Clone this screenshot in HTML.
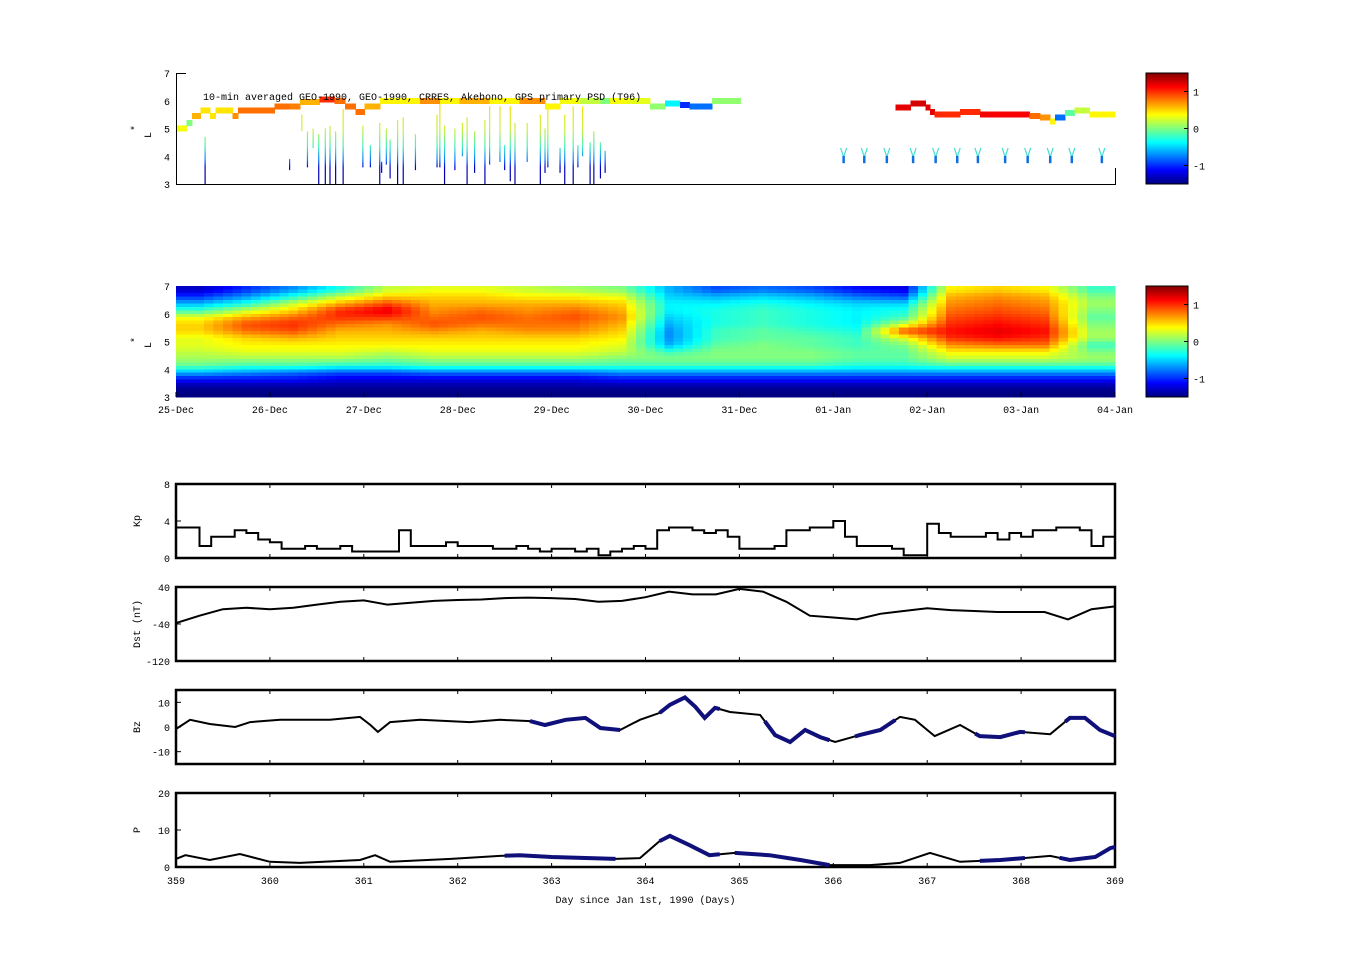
<!DOCTYPE html>
<html><head><meta charset="utf-8"><style>
html,body{margin:0;padding:0;background:#fff;}
svg{display:block;font-family:"Liberation Mono",monospace;font-size:10px;}
</style></head><body>
<svg id="fig" width="1351" height="974" xmlns="http://www.w3.org/2000/svg">
<defs>
<linearGradient id="jetv" x1="0" y1="0" x2="0" y2="1">
<stop offset="0" stop-color="#800000"/><stop offset="0.125" stop-color="#ff0000"/><stop offset="0.375" stop-color="#ffff00"/><stop offset="0.625" stop-color="#00ffff"/><stop offset="0.875" stop-color="#0000ff"/><stop offset="1" stop-color="#000080"/>
</linearGradient>
<linearGradient id="spikeGrad" gradientUnits="userSpaceOnUse" x1="0" y1="101" x2="0" y2="184">
<stop offset="0" stop-color="#ffe000"/><stop offset="0.35" stop-color="#c8f040"/><stop offset="0.55" stop-color="#40f0c0"/><stop offset="0.7" stop-color="#1080ff"/><stop offset="0.8" stop-color="#0000d0"/><stop offset="1" stop-color="#000090"/>
</linearGradient>
</defs>
<g id="p1"></g>
<g id="p2"></g>
<g id="pk"></g>
<g id="pd"></g>
<g id="pb"></g>
<g id="pp"></g>
<g id="cb"></g>
</svg>
<script>
// ---------- data ----------
const xTickDays=[359,360,361,362,363,364,365,366,367,368,369];
const dateLabels=["25-Dec","26-Dec","27-Dec","28-Dec","29-Dec","30-Dec","31-Dec","01-Jan","02-Jan","03-Jan","04-Jan"];
const lTicks=[3,4,5,6,7];
const cbTicks=[1,0,-1];
const trackStart=[0,.11,.17,.26,.36,.42,.60,.66,1.05,1.21,1.32,1.53,1.69,1.80,1.91,2.01,2.17,2.60,2.81,3.02,3.34,3.66,3.93,4.09,4.30,4.52,4.62,4.83,5.05,5.21,5.37,5.47,5.71, 7.66,7.82,7.98,8.03,8.08,8.35,8.56,9.09,9.20,9.31,9.36,9.47,9.57,9.73];
const trackEnd=[.11,.17,.26,.36,.42,.60,.66,1.05,1.21,1.32,1.53,1.69,1.80,1.91,2.01,2.17,2.60,2.81,3.02,3.34,3.66,3.93,4.09,4.30,4.52,4.62,4.83,5.05,5.21,5.37,5.47,5.71,6.01, 7.82,7.98,8.03,8.08,8.35,8.56,9.09,9.20,9.31,9.36,9.47,9.57,9.73,10.0];
const trackL=[5.0,5.2,5.45,5.65,5.45,5.65,5.45,5.65,5.8,5.8,5.95,6.05,6.0,5.8,5.6,5.8,6.0,6.0,6.0,6.0,6.0,6.0,5.8,6.0,6.0,6.0,6.0,6.0,5.8,5.9,5.85,5.8,6.0, 5.75,5.9,5.75,5.6,5.5,5.6,5.5,5.45,5.4,5.25,5.4,5.55,5.65,5.5];
const trackVal=[0.35,0,0.6,0.45,0.45,0.45,0.7,0.8,0.8,0.75,0.6,1.0,0.8,0.8,0.8,0.6,0.4,0.7,0.4,0.6,0.4,0.7,0.4,0.35,0.2,0,0.35,0.3,0.05,-0.4,-1.0,-0.8,0.05, 1.2,1.25,1.2,1.2,1.0,1.0,1.15,0.8,0.7,0.4,-0.8,-0.1,0.2,0.4];
const spikeDays=[.31,1.21,1.34,1.40,1.46,1.52,1.59,1.64,1.70,1.78,1.99,2.07,2.17,2.19,2.24,2.28,2.36,2.42,2.55,2.78,2.81,2.86,2.97,3.05,3.10,3.18,3.29,3.34,3.45,3.50,3.56,3.61,3.74,3.88,3.93,3.96,4.09,4.14,4.23,4.28,4.33,4.41,4.45,4.52,4.57];
const spikeTop=[4.7,3.9,5.5,4.9,5.0,4.8,5.0,5.1,4.9,5.7,5.1,4.4,5.2,3.8,5.0,4.6,5.3,5.4,4.8,5.5,5.9,5.1,5.0,5.2,5.4,4.9,5.3,5.8,5.8,4.4,5.8,5.2,5.2,5.5,5.0,5.7,4.3,5.5,5.8,4.4,5.8,4.5,4.9,4.5,4.2];
const spikeBot=[3,3.5,4.9,3.6,4.3,3,3,3,3,3,3.6,3.6,3,3.4,3.7,3.2,3,3,3.5,3.6,3.6,3,3.5,4.0,3,3.4,3,3.7,3.8,3.5,3.1,3,3.8,3,3.4,3.6,3.4,3,3,3.6,4.0,3,3,3.2,3.4];
const vDays=[7.11,7.33,7.57,7.85,8.09,8.32,8.54,8.83,9.07,9.31,9.54,9.86];
const heat=[
[-1.3,-1,-0.6,-0.2,0.3,0.5,0.5,0.3,0.3,0.2,0.1,-0.1,-0.6,-1.1,-1.4,-1.5],
[-1,-0.7,-0.3,0.2,0.6,0.9,0.8,0.5,0.4,0.3,0.1,-0.2,-0.7,-1.1,-1.4,-1.5],
[-0.7,-0.3,0.2,0.5,0.8,1.0,0.9,0.6,0.4,0.3,0.1,-0.2,-0.8,-1.1,-1.4,-1.5],
[-0.3,0.2,0.6,1.0,1.0,0.8,0.6,0.5,0.4,0.3,0.1,-0.3,-0.9,-1.2,-1.4,-1.5],
[0.2,0.5,0.9,1.2,1.0,0.7,0.6,0.5,0.4,0.2,0.0,-0.3,-0.9,-1.2,-1.4,-1.5],
[0.3,0.5,0.6,0.7,0.8,0.9,0.7,0.5,0.4,0.3,0.1,-0.2,-0.8,-1.2,-1.4,-1.5],
[0.3,0.5,0.6,0.8,0.9,0.8,0.6,0.5,0.4,0.3,0.1,-0.2,-0.8,-1.2,-1.4,-1.5],
[0.2,0.4,0.6,0.7,0.8,0.8,0.7,0.5,0.4,0.3,0.1,-0.2,-0.8,-1.2,-1.4,-1.5],
[0.1,0.4,0.6,0.8,0.9,0.8,0.7,0.5,0.4,0.3,0.1,-0.2,-0.8,-1.2,-1.4,-1.5],
[0.0,0.3,0.5,0.6,0.7,0.6,0.5,0.4,0.3,0.2,0.0,-0.2,-0.7,-1.1,-1.4,-1.5],
[-0.6,-0.5,-0.4,-0.4,-0.5,-0.6,-0.7,-0.7,-0.6,-0.2,0.0,-0.2,-0.7,-1.1,-1.4,-1.5],
[-0.9,-0.6,-0.4,-0.3,-0.3,-0.3,-0.2,-0.2,-0.1,0.0,0.0,-0.2,-0.7,-1.1,-1.4,-1.5],
[-0.8,-0.5,-0.3,-0.2,-0.2,-0.2,-0.1,-0.1,0.0,0.0,0.0,-0.2,-0.7,-1.1,-1.4,-1.5],
[-0.9,-0.6,-0.4,-0.3,-0.3,-0.3,-0.2,-0.1,-0.1,0.0,0.0,-0.2,-0.7,-1.1,-1.4,-1.5],
[-1.1,-0.8,-0.5,-0.4,-0.4,-0.4,-0.3,-0.2,-0.2,-0.1,-0.1,-0.3,-0.7,-1.1,-1.4,-1.5],
[-1.2,-0.9,-0.5,-0.3,-0.2,0.2,0.9,0.3,0.0,-0.1,-0.1,-0.3,-0.7,-1.1,-1.4,-1.5],
[0.4,0.6,0.7,0.8,0.9,1.0,1.1,1.0,0.7,0.4,0.2,-0.2,-0.7,-1.1,-1.4,-1.5],
[0.5,0.7,0.8,0.9,1.0,1.1,1.2,1.1,0.8,0.4,0.2,-0.2,-0.7,-1.1,-1.4,-1.5],
[0.4,0.6,0.7,0.8,0.9,1.0,1.1,1.0,0.8,0.4,0.2,-0.2,-0.7,-1.1,-1.4,-1.5],
[-0.2,0.0,0.1,0.0,-0.1,0.0,0.1,0.1,-0.2,0.0,0.1,-0.2,-0.7,-1.1,-1.4,-1.5]];
const kpVals=[3.3,3.3,1.3,2.3,2.3,3,2.7,2, 1.7,1,1,1.3,1,1,1.3,0.7, 0.7,0.7,0.7,3,1.3,1.3,1.3,1.7, 1.3,1.3,1.3,1,1,1.3,1,0.7, 1,1,0.7,1,0.3,0.7,1,1.3, 1,3,3.3,3.3,3,2.7,3,2.3, 1,1,1,1.3,3,3,3.3,3.3, 4,2.3,1.3,1.3,1.3,1,0.3,0.3, 3.7,2.7,2.3,2.3,2.3,2.7,2,2.7, 2.3,3,3,3.3,3.3,3,1.3,2.3];
const dstVals=[-38,-22,-8,-5,-8,-5,2,8,11,2,6,10,12,13,16,17,16,14,8,10,18,30,24,24,36,30,8,-22,-26,-30,-18,-12,-6,-10,-12,-14,-14,-14,-30,-8,-2];
const bzDays=[0,.15,.36,.63,.79,1.11,1.64,1.96,2.07,2.15,2.28,2.60,3.13,3.45,3.77,3.93,4.15,4.36,4.52,4.73,4.94,5.15,5.26,5.42,5.53,5.63,5.74,5.90,6.22,6.38,6.54,6.70,6.86,7.02,7.28,7.50,7.71,7.87,8.08,8.35,8.56,8.78,8.99,9.31,9.52,9.68,9.84,10];
const bzVals=[-0.8,2.9,1.2,0,2,2.9,2.9,4.1,0.8,-2,2,2.9,2,2.9,2.4,0.8,2.9,3.7,-0.4,-1.2,2.9,5.7,9,12,8.2,3.7,7.8,6.1,4.9,-3.3,-6.1,-1.2,-4.1,-6.1,-3.3,-1.2,4.1,2.9,-3.7,0.8,-3.7,-4.1,-2,-2.9,3.7,3.7,-1.2,-3.7];
const bzBlueStart=[3.77,5.15,6.27,7.23,8.51,9.47];
const bzBlueEnd=[4.73,5.79,6.96,7.66,9.04,10];
const pDays=[0,.10,.36,.68,1.0,1.32,1.96,2.12,2.28,2.93,3.45,3.66,4.0,4.68,4.94,5.15,5.26,5.47,5.68,5.95,6.32,6.65,6.96,7.39,7.71,8.03,8.35,8.78,9.31,9.52,9.79,9.95,10];
const pVals=[2.2,3.2,1.9,3.5,1.4,1.1,1.9,3.2,1.4,2.2,3.0,3.2,2.7,2.2,2.4,7.0,8.4,5.9,3.2,3.8,3.2,1.9,0.5,0.5,1.1,3.8,1.4,1.9,3.0,1.9,2.7,5.1,5.4];
const pBlueStart=[3.50,5.15,5.95,8.56,9.41];
const pBlueEnd=[4.68,5.79,6.96,9.04,10];

// ---------- helpers ----------
const NS="http://www.w3.org/2000/svg";
const X0=176,X1=1115;
function xs(d){return X0+(d-359)/10*(X1-X0);}
function jet(v){let t=(v+1.5)/3;t=Math.max(0,Math.min(1,t));
 const c=a=>Math.round(255*Math.max(0,Math.min(1,1.5-Math.abs(4*t-a))));
 return `rgb(${c(3)},${c(2)},${c(1)})`;}
function mk(parent,tag,attrs,text){const e=document.createElementNS(NS,tag);for(const k in attrs)e.setAttribute(k,attrs[k]);if(text!==undefined)e.textContent=text;parent.appendChild(e);return e;}
function ysL(top,bot){return L=>bot-(L-3)/4*(bot-top);}

// ---------- panel 1 ----------
const p1=document.getElementById('p1');
const y1=ysL(73,184);
for(let i=0;i<spikeDays.length;i++){
 const x=xs(359+spikeDays[i]);
 const e=mk(p1,'line',{x1:x,x2:x,y1:y1(spikeTop[i]),y2:y1(spikeBot[i]),stroke:'url(#spikeGrad)','stroke-width':1.2});
 
 
}
for(let i=0;i<trackStart.length;i++){
 const xa=xs(359+trackStart[i]),xb=xs(359+trackEnd[i]);
 const e=mk(p1,'rect',{x:xa,y:y1(trackL[i])-3,width:xb-xa+0.5,height:6,fill:jet(trackVal[i]),'shape-rendering':'crispEdges'});
 
 
}
for(let i=0;i<vDays.length;i++){
 const x=xs(359+vDays[i]),yt=y1(4.3),yb=y1(3.75);
 const g=mk(p1,'g',{});
 
 
 mk(g,'path',{d:`M${x-3},${yt} L${x},${yt+9} L${x+3},${yt}`,stroke:'#40e0d0',fill:'none','stroke-width':1.2});
 mk(g,'line',{x1:x,x2:x,y1:yt+8,y2:yb,stroke:'#1070e0','stroke-width':2.5});
}
mk(p1,'path',{d:`M186,73.5 H176.5 V184.5 H1115.5 V168`,stroke:'#000',fill:'none','stroke-width':1});
lTicks.forEach(L=>{mk(p1,'text',{x:170,y:y1(L)+4,'text-anchor':'end'},String(L));});
{const t=mk(p1,'text',{x:203,y:100,'font-size':'10px'},'10-min averaged GEO-1990, GEO-1990, CRRES, Akebono, GPS  primary PSD (T96)');
 
 }
{const t=mk(p1,'text',{transform:'translate(151,135) rotate(-90)','text-anchor':'middle'},'L');
 
 
 mk(p1,'text',{transform:'translate(138,128) rotate(-90)','text-anchor':'middle'},'*');}

// ---------- panel 2 (bilinear-smoothed rendering of the heat grid) ----------
const p2=document.getElementById('p2');
const y2=ysL(286,397);
const nc=heat.length,nr=heat[0].length;
function heatAt(cf,rf){
 cf=Math.max(0,Math.min(nc-1,cf));rf=Math.max(0,Math.min(nr-1,rf));
 const c0=Math.floor(cf),c1=Math.min(nc-1,c0+1),r0=Math.floor(rf),r1=Math.min(nr-1,r0+1);
 const fc=cf-c0,fr=rf-r0;
 const a=heat[c0][r0]*(1-fc)+heat[c1][r0]*fc, b=heat[c0][r1]*(1-fc)+heat[c1][r1]*fc;
 return a*(1-fr)+b*fr;}
const SUBC=5,SUBR=2;
for(let c=0;c<nc*SUBC;c++)for(let r=0;r<nr*SUBR;r++){
 const d0=359+c*10/(nc*SUBC),d1=359+(c+1)*10/(nc*SUBC);
 const La=7-r*4/(nr*SUBR),Lb=7-(r+1)*4/(nr*SUBR);
 const v=heatAt((c+0.5)/SUBC-0.5,(r+0.5)/SUBR-0.5);
 const e=mk(p2,'rect',{x:xs(d0),y:y2(La),width:xs(d1)-xs(d0)+0.6,height:y2(Lb)-y2(La)+0.6,fill:jet(v),'shape-rendering':'crispEdges'});
 
 
}
lTicks.forEach(L=>{mk(p2,'text',{x:170,y:y2(L)+4,'text-anchor':'end'},String(L));});
xTickDays.forEach((d,i)=>{
 mk(p2,'line',{x1:xs(d),x2:xs(d),y1:397,y2:392,stroke:'#000'});
 const t=mk(p2,'text',{x:xs(d),y:413,'text-anchor':'middle'},dateLabels[i]);
 
 
});
mk(p2,'text',{transform:'translate(151,345) rotate(-90)','text-anchor':'middle'},'L');
mk(p2,'text',{transform:'translate(138,340) rotate(-90)','text-anchor':'middle'},'*');

// ---------- lower panels ----------
function frame(g,top,bot,ticks,lo,hi,label){
 const ys=v=>bot-(v-lo)/(hi-lo)*(bot-top);
 mk(g,'rect',{x:X0,y:top,width:X1-X0,height:bot-top,fill:'none',stroke:'#000','stroke-width':2.5});
 ticks.forEach(v=>{mk(g,'text',{x:170,y:ys(v)+4,'text-anchor':'end'},String(v));
  mk(g,'line',{x1:X0,x2:X0+5,y1:ys(v),y2:ys(v),stroke:'#000'});});
 xTickDays.forEach(d=>{mk(g,'line',{x1:xs(d),x2:xs(d),y1:bot,y2:bot-4,stroke:'#000'});mk(g,'line',{x1:xs(d),x2:xs(d),y1:top,y2:top+4,stroke:'#000'});});
 const t=mk(g,'text',{transform:`translate(${140},${(top+bot)/2}) rotate(-90)`,'text-anchor':'middle'},label);
 
 
 return ys;
}
function linePath(days,vals,ys){return days.map((d,i)=>(i?'L':'M')+xs(359+d).toFixed(1)+','+ys(vals[i]).toFixed(1)).join(' ');}
function interp(days,vals,d){for(let i=1;i<days.length;i++){if(d<=days[i]){const f=(d-days[i-1])/(days[i]-days[i-1]);return vals[i-1]+f*(vals[i]-vals[i-1]);}}return vals[vals.length-1];}
function subPath(days,vals,a,b,ys){const pd=[a],pv=[interp(days,vals,a)];days.forEach((d,i)=>{if(d>a&&d<b){pd.push(d);pv.push(vals[i]);}});pd.push(b);pv.push(interp(days,vals,b));return linePath(pd,pv,ys);}

const pk=document.getElementById('pk');
const yk=frame(pk,484,558,[8,4,0],0,8,'Kp');
{let d='';kpVals.forEach((v,i)=>{const xa=xs(359+i/8),xb=xs(359+(i+1)/8);d+=(i?'L':'M')+xa.toFixed(1)+','+yk(v).toFixed(1)+' L'+xb.toFixed(1)+','+yk(v).toFixed(1)+' ';});
 const e=mk(pk,'path',{d:d,fill:'none',stroke:'#000','stroke-width':2});
 
 }
const pdg=document.getElementById('pd');
const yd=frame(pdg,587,661,[40,-40,-120],-120,40,'Dst (nT)');
{const days=dstVals.map((v,i)=>i*0.25);
 const e=mk(pdg,'path',{d:linePath(days,dstVals,yd),fill:'none',stroke:'#000','stroke-width':2});
 
 }
const pbg=document.getElementById('pb');
const yb=frame(pbg,690,764,[10,0,-10],-15,15,'Bz');
{const e=mk(pbg,'path',{d:linePath(bzDays,bzVals,yb),fill:'none',stroke:'#000','stroke-width':2});
 
 }
bzBlueStart.forEach((a,i)=>{const e=mk(pbg,'path',{d:subPath(bzDays,bzVals,a,bzBlueEnd[i],yb),fill:'none',stroke:'#10107a','stroke-width':4});
 
 });
const ppg=document.getElementById('pp');
const yp=frame(ppg,793,867,[20,10,0],0,20,'P');
{const e=mk(ppg,'path',{d:linePath(pDays,pVals,yp),fill:'none',stroke:'#000','stroke-width':2});
 
 }
pBlueStart.forEach((a,i)=>{const e=mk(ppg,'path',{d:subPath(pDays,pVals,a,pBlueEnd[i],yp),fill:'none',stroke:'#10107a','stroke-width':4});
 
 });
xTickDays.forEach(d=>{const t=mk(ppg,'text',{x:xs(d),y:884,'text-anchor':'middle'},String(d));
 
 });
{const t=mk(ppg,'text',{x:(X0+X1)/2,y:903,'text-anchor':'middle'},'Day since Jan 1st, 1990 (Days)');
 
 }

const cb=document.getElementById('cb');
[[73,184],[286,397]].forEach(([t,b])=>{
 const r=mk(cb,'rect',{x:1146,y:t,width:42,height:b-t,fill:'url(#jetv)',stroke:'#000','stroke-width':1});
 
 
 cbTicks.forEach(v=>{const y=b-(v+1.5)/3*(b-t);
  mk(cb,'line',{x1:1184,x2:1188,y1:y,y2:y,stroke:'#000'});
  mk(cb,'text',{x:1193,y:y+4},String(v));});
});
</script>
</body></html>
